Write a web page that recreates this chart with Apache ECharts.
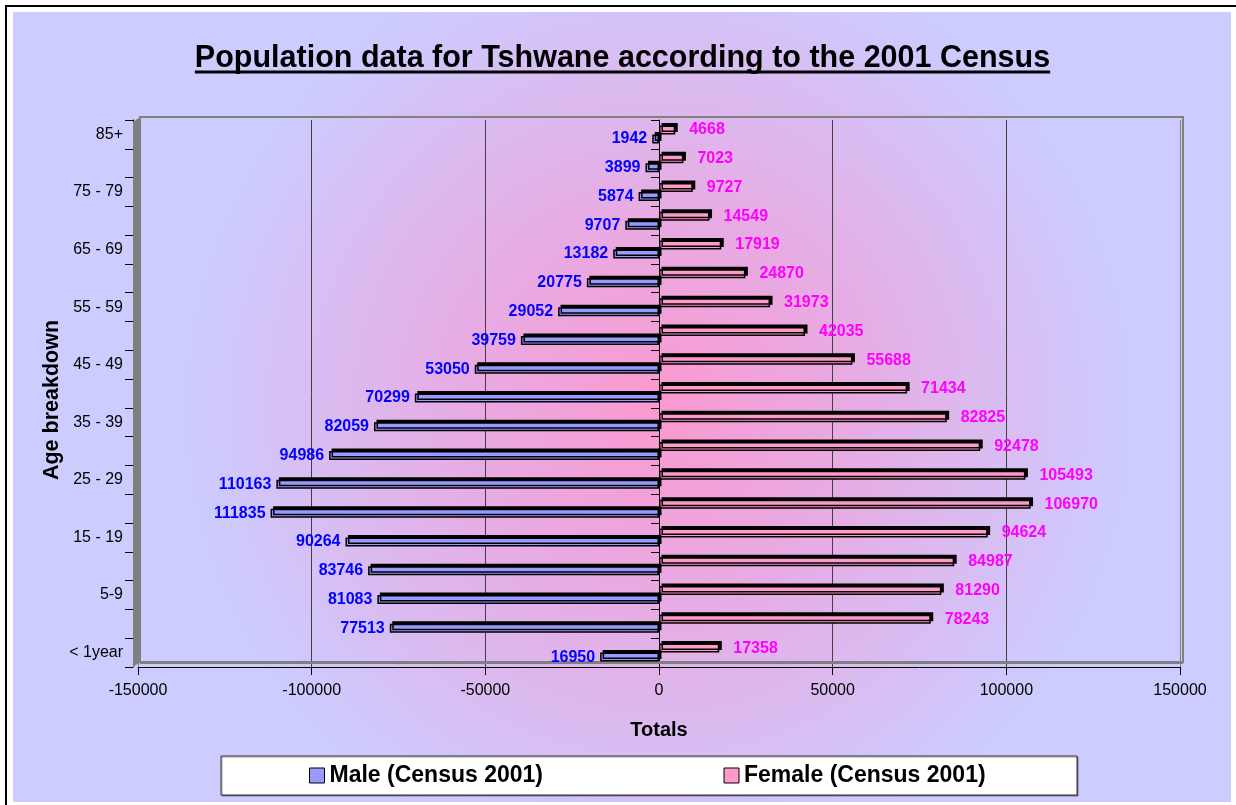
<!DOCTYPE html>
<html>
<head>
<meta charset="utf-8">
<title>Population data for Tshwane</title>
<script src="https://cdn.jsdelivr.net/npm/echarts@6/dist/echarts.min.js"></script>
<style>
  html, body { margin: 0; padding: 0; background: #fff; }
  #chart { width: 1236px; height: 805px; }
</style>
</head>
<body>
<div id="chart"></div>
<script>
// age groups, bottom to top
var ageGroups = ['< 1year', '1-4', '5-9', '10 - 14', '15 - 19', '20 - 24', '25 - 29', '30 - 34', '35 - 39',
  '40 - 44', '45 - 49', '50 - 54', '55 - 59', '60 - 64', '65 - 69', '70 - 74', '75 - 79', '80 - 84', '85+'];
var maleTotals = [16950, 77513, 81083, 83746, 90264, 111835, 110163, 94986, 82059, 70299,
  53050, 39759, 29052, 20775, 13182, 9707, 5874, 3899, 1942];
var femaleTotals = [17358, 78243, 81290, 84987, 94624, 106970, 105493, 92478, 82825, 71434,
  55688, 42035, 31973, 24870, 17919, 14549, 9727, 7023, 4668];
var axisMin = -150000, axisMax = 150000, axisStep = 50000;

var FONT = 'Arial, "Liberation Sans", sans-serif';
var titleText = 'Population data for Tshwane according to the 2001 Census';
var maleName = 'Male (Census 2001)';
var femaleName = 'Female (Census 2001)';

// measure text so the underline and legend can be placed
function textWidth(txt, font) {
  var c = document.createElement('canvas').getContext('2d');
  c.font = font;
  return c.measureText(txt).width;
}
var titleW = textWidth(titleText, 'bold 30.5px ' + FONT);
var titleCx = 622.5;
var maleW = textWidth(maleName, 'bold 23px ' + FONT);

var barStyle = {
  borderColor: '#000',
  borderWidth: 1.5,
  shadowColor: '#000',
  shadowBlur: 0,
  shadowOffsetX: 2.5,
  shadowOffsetY: -2.5
};

var chart = echarts.init(document.getElementById('chart'));
chart.setOption({
  backgroundColor: '#fff',
  textStyle: { fontFamily: FONT },
  animation: false,
  title: {
    text: titleText,
    left: titleCx - titleW / 2,
    top: 43,
    padding: 0,
    textStyle: { fontSize: 30.5, fontWeight: 'bold', color: '#000', fontFamily: FONT }
  },
  graphic: [
    // outer frame
    { type: 'rect', z: -20, silent: true, shape: { x: 6, y: 6, width: 1240, height: 810 },
      style: { fill: '#fff', stroke: '#000', lineWidth: 2 } },
    // chart panel with centre gradient
    { type: 'rect', z: -10, silent: true, shape: { x: 13, y: 12, width: 1218, height: 790 },
      style: { fill: new echarts.graphic.RadialGradient(0.53, 0.5, 0.6, [
        { offset: 0, color: '#fb99d0' },
        { offset: 0.35, color: '#eaa8e0' },
        { offset: 1, color: '#ccccff' }
      ]) } },
    // title underline
    { type: 'line', z: 10, silent: true,
      shape: { x1: titleCx - titleW / 2, y1: 72, x2: titleCx + titleW / 2, y2: 72 },
      style: { stroke: '#000', lineWidth: 3 } },
    // back wall outline
    { type: 'rect', z: 1, silent: true, shape: { x: 140, y: 117, width: 1043, height: 545 },
      style: { fill: 'transparent', stroke: '#808080', lineWidth: 2 } },
    // left wall
    { type: 'polygon', z: 1, silent: true,
      shape: { points: [[133, 122], [140, 117], [140, 662], [133, 667]] },
      style: { fill: '#808080' } },
    // floor edge
    { type: 'rect', z: 1, silent: true, shape: { x: 140, y: 661, width: 1043, height: 3 },
      style: { fill: '#808080' } },
    // y axis title
    { type: 'text', z: 10, silent: true, x: 52, y: 400, rotation: Math.PI / 2,
      style: { text: 'Age breakdown', fill: '#000', font: 'bold 21.5px ' + FONT,
        align: 'center', verticalAlign: 'middle' } },
    // legend box
    { type: 'rect', z: 1, silent: true, shape: { x: 221, y: 756, width: 856, height: 39 },
      style: { fill: '#fff', stroke: '#333', lineWidth: 1, shadowColor: 'rgba(0,0,0,0.4)', shadowOffsetX: 1, shadowOffsetY: 1 } }
  ],
  legend: {
    data: [maleName, femaleName],
    left: 309,
    top: 764,
    padding: 0,
    itemWidth: 15,
    itemHeight: 15,
    itemGap: 723 - 309 - 15 - 5 - maleW,
    icon: 'rect',
    itemStyle: { borderColor: '#000', borderWidth: 1, shadowBlur: 0, shadowOffsetX: 0, shadowOffsetY: 0, shadowColor: 'transparent' },
    textStyle: { fontSize: 23, fontWeight: 'bold', color: '#000', fontFamily: FONT }
  },
  grid: {
    left: 138,
    right: 56,
    top: 120,
    bottom: 138,
    show: false
  },
  xAxis: {
    type: 'value',
    min: axisMin,
    max: axisMax,
    interval: axisStep,
    name: 'Totals',
    nameLocation: 'middle',
    nameGap: 53,
    nameTextStyle: { fontSize: 20, fontWeight: 'bold', color: '#000', fontFamily: FONT },
    axisLine: { show: true, lineStyle: { color: '#000', width: 1 } },
    axisTick: { show: true, length: 8, lineStyle: { color: '#000' } },
    axisLabel: { fontSize: 16, color: '#000', margin: 16, fontFamily: FONT,
      formatter: function (v) { return String(v); } },
    splitLine: { show: true, lineStyle: { width: 1,
      color: ['#808080', '#404040', '#404040', '#404040', '#404040', '#404040', '#808080'] } }
  },
  yAxis: [
    {
      type: 'category',
      data: ageGroups,
      position: 'left',
      offset: 5,
      axisLine: { show: true, onZero: false, lineStyle: { color: '#000', width: 1 } },
      axisTick: { show: true, interval: 0, length: 8, lineStyle: { color: '#000' } },
      axisLabel: { interval: 1, fontSize: 16, color: '#000', margin: 10, fontFamily: FONT },
      splitLine: { show: false }
    },
    {
      type: 'category',
      data: ageGroups,
      position: 'left',
      axisLine: { show: true, onZero: true, lineStyle: { color: '#000', width: 1 } },
      axisTick: { show: true, interval: 0, length: 8, lineStyle: { color: '#000' } },
      axisLabel: { show: false },
      splitLine: { show: false }
    }
  ],
  series: [
    {
      name: femaleName,
      type: 'bar',
      yAxisIndex: 0,
      data: femaleTotals,
      barWidth: 9,
      barGap: '0%',
      itemStyle: Object.assign({ color: '#ff99cc' }, barStyle),
      label: {
        show: true,
        position: 'right',
        distance: 14,
        color: '#ff00ff',
        fontSize: 16,
        fontWeight: 'bold',
        fontFamily: FONT
      }
    },
    {
      name: maleName,
      type: 'bar',
      yAxisIndex: 0,
      data: maleTotals.map(function (v) { return -v; }),
      barWidth: 9,
      barGap: '0%',
      itemStyle: Object.assign({ color: '#9999ff' }, barStyle),
      label: {
        show: true,
        position: 'left',
        distance: 5,
        color: '#0000ff',
        fontSize: 16,
        fontWeight: 'bold',
        fontFamily: FONT,
        formatter: function (p) { return String(Math.abs(p.value)); }
      }
    }
  ]
});
</script>
</body>
</html>
